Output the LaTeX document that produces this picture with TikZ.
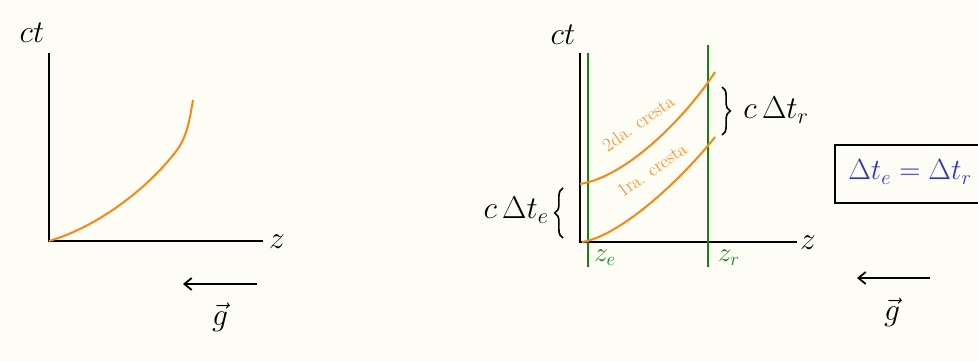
\RequirePackage{fix-cm}
\documentclass[tikz,border=0pt]{standalone}
\usepackage{amsmath,amssymb}
\usepackage{tikz}
\usetikzlibrary{decorations.pathreplacing,arrows.meta}

\begin{document}
\begin{tikzpicture}[x=0.3mm,y=0.3mm]
    \definecolor{paper}{RGB}{253,253,246}
    \definecolor{wave}{RGB}{250,135,20}
    \definecolor{obs}{RGB}{20,130,20}
    \definecolor{eqn}{RGB}{50,50,205}
    \tikzset{axis/.style={line width=1.6pt},
      crest/.style={wave,line width=1.7pt},
      obsline/.style={obs,line width=1.5pt},
      gvec/.style={line width=1.5pt,-{Straight Barb[length=2.2mm,width=3.6mm]}},
      brc/.style={line width=1.4pt,decorate,decoration={brace,amplitude=7pt}},
      big/.style={font=\fontsize{27}{30}\selectfont},
      mid/.style={font=\fontsize{23}{26}\selectfont},
      crestlbl/.style={wave,font=\fontsize{16}{18}\selectfont,rotate=35,inner sep=1pt}}
    \useasboundingbox (0,0) rectangle (978,361);
    \fill[paper] (0,0) rectangle (978,361);
    % left: one crest
    \coordinate (O1) at (49,120);
    \coordinate (ytop1) at (49,308);
    \coordinate (xend1) at (263,120);
    \draw[axis] (ytop1) -- (O1) -- (xend1);
    \draw[crest] (O1) .. controls (100,135) and (150,175) .. (177,211)
      .. controls (188,226) and (190,245) .. (193,261);
    \node[big] (ct1) at (32,328) {$ct$};
    \node[big] (z1) at (277,119) {$z$};
    \coordinate (g1a) at (257,77);
    \coordinate (g1b) at (183,77);
    \draw[gvec] (g1a) -- (g1b);
    \node[big] (g1) at (220,44) {$\vec{g}$};
    % right: two crests
    \coordinate (O2) at (580,119);
    \coordinate (ytop2) at (580,308);
    \coordinate (xend2) at (797,119);
    \draw[axis] (ytop2) -- (O2) -- (xend2);
    \node[big] (ct2) at (563,326) {$ct$};
    \node[big] (z2) at (808,118) {$z$};
    \draw[obsline] (588,308) -- (588,94);
    \draw[obsline] (708,316) -- (708,94);
    \node[obs,mid] (ze) at (605,103) {$z_e$};
    \node[obs,mid] (zr) at (729,103) {$z_r$};
    \draw[crest] (580,177) .. controls (630,185) and (690,250) .. (715,289);
    \draw[crest] (582,119) .. controls (620,125) and (680,180) .. (715,224);
    \node[crestlbl] (cr2) at (638,238) {2da. cresta};
    \node[crestlbl] (cr1) at (652,191) {1ra. cresta};
    \draw[brc] (722,274) -- (722,226);
    \node[big] (dtr) at (776,251) {$c\,\Delta t_r$};
    \draw[brc] (563,123) -- (563,173);
    \node[big] (dte) at (516,151) {$c\,\Delta t_e$};
    \node[draw,line width=1.5pt,minimum width=47mm,minimum height=17.4mm,anchor=west,inner sep=0] (eq) at (834,187) {};
    \node[text=eqn,font=\fontsize{25}{30}\selectfont] (eqtxt) at (910,189) {$\Delta t_e=\Delta t_r$};
    \coordinate (g2a) at (930,83);
    \coordinate (g2b) at (857,83);
    \draw[gvec] (g2a) -- (g2b);
    \node[big] (g2) at (892,49) {$\vec{g}$};
\end{tikzpicture}
\end{document}
